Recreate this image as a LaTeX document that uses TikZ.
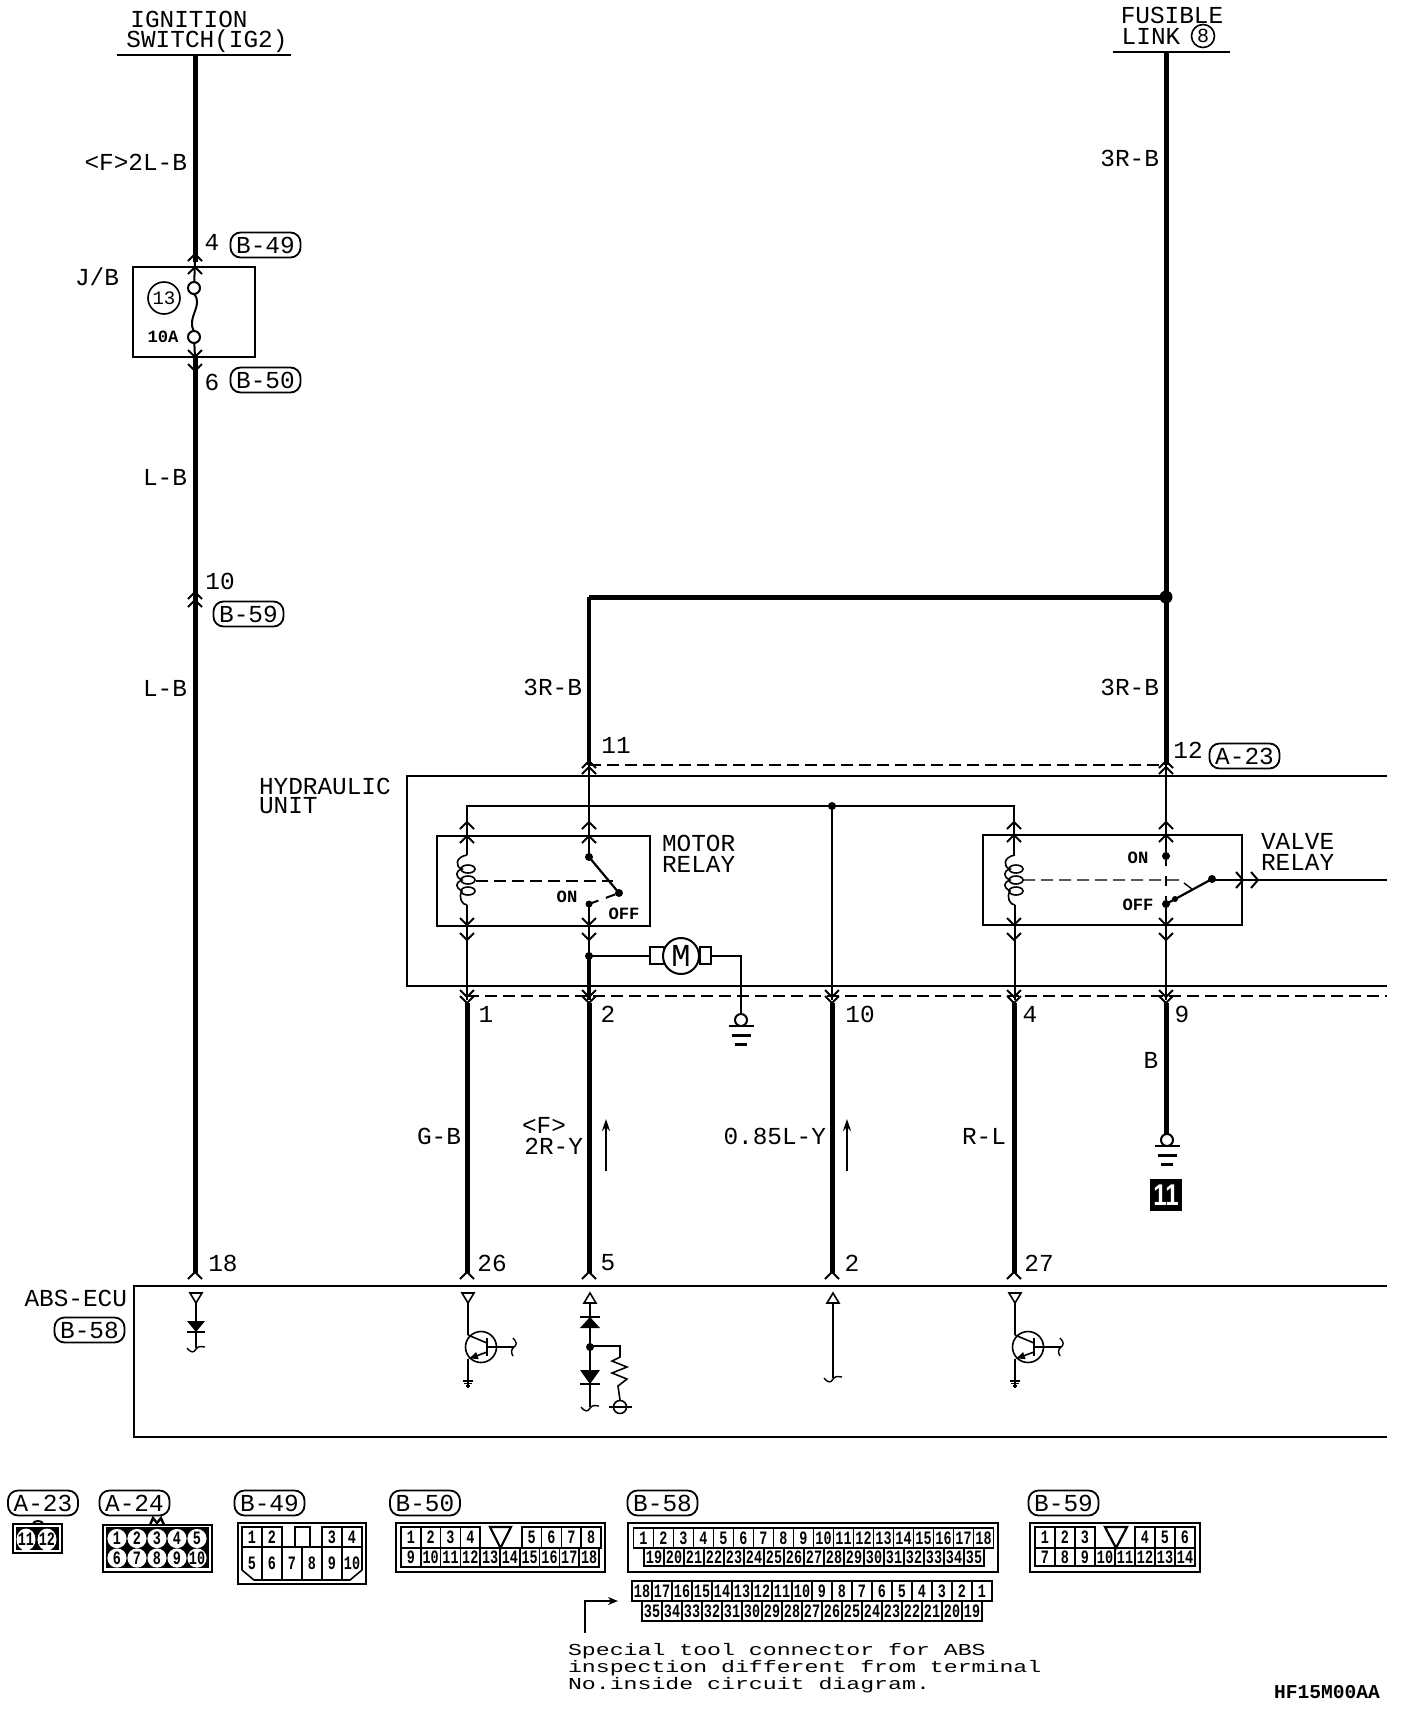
\documentclass[tikz,border=0pt]{standalone}
\usepackage{fontspec}
\setmainfont{Liberation Mono}
\newfontfamily\sansb{Liberation Sans}
\usetikzlibrary{arrows.meta,decorations.pathmorphing}
\newcommand{\bigf}{\fontsize{12.2}{12}\selectfont}
\newcommand{\midf}{\fontsize{11.6}{11}\selectfont}
\newcommand{\smallf}{\fontsize{8.6}{9}\selectfont\bfseries}
\newcommand{\cellf}{\fontsize{7}{7}\selectfont\bfseries}
% \cellrow{prefix}{x0}{y0}{w}{h}{list}
\newcommand{\cellrow}[6]{%
  \foreach \n [count=\i] in {#6}{%
    \draw[cellline] ({#2+(\i-1)*#4},#3) rectangle ({#2+\i*#4},{#3+#5});
    \node[celltxt,name=#1\n] at ({#2+(\i-.5)*#4},{#3+#5/2}) {\scalebox{0.96}[1.35]{\n}};
  }}
\tikzset{
  txt/.style={inner sep=0pt,outer sep=0pt,font=\bigf,align=left},
  smalltxt/.style={inner sep=0pt,outer sep=0pt,font=\smallf},
  celltxt/.style={inner sep=0pt,outer sep=0pt,font=\cellf},
  notetxt/.style={inner sep=0pt,outer sep=0pt,anchor=west,font=\midf},
  cellline/.style={draw=black,line width=.8pt},
  rlabel/.style={draw=black,line width=.9pt,rounded corners=5pt,minimum width=35pt,minimum height=12.5pt,inner sep=0pt,font=\bigf},
  thickw/.style={line width=2.5pt,draw=black},
  medw/.style={line width=1.8pt,draw=black},
  thinw/.style={line width=1pt,draw=black},
  boxl/.style={line width=1pt,draw=black},
  dashl/.style={line width=.9pt,draw=black,dash pattern=on 6pt off 3pt},
  pics/cu/.style={code={\draw[line width=1pt] (-7,7)--(0,0)--(7,7);}},
  pics/cd/.style={code={\draw[line width=1pt] (-7,-7)--(0,0)--(7,-7);}},
  pics/cr/.style={code={\draw[line width=1pt] (-7,-8)--(0,0)--(-7,8);}},
  pics/curl/.style={code={\draw[line width=.7pt] (-9,-1) .. controls (-5,4) and (-2,4) .. (0,0) .. controls (2,-3) and (6,-3) .. (9,-2);}},
  pics/curlv/.style={code={\draw[line width=.7pt] (-1,-9) .. controls (3,-5) and (3,-2) .. (0,0) .. controls (-3,2) and (-3,6) .. (-1,9);}},
  pics/coil/.style={code={
    \draw[line width=.8pt] (0,0) .. controls (-12,2) and (-12,12) .. (-5,14) .. controls (-12,16) and (-12,22) .. (-5,25) .. controls (-12,28) and (-12,32) .. (-5,36) .. controls (-9,42) and (-5,50) .. (0,50);
    \draw[line width=.8pt] (1,14) ellipse (7 and 4);
    \draw[line width=.8pt] (1,25) ellipse (7 and 4);
    \draw[line width=.8pt] (1,36) ellipse (7 and 4);}},
  pics/transis/.style={code={
    \draw[line width=.8pt] (0,0) circle (15.5);
    \draw[line width=1.1pt] (6,-9)--(6,9);
    \draw[line width=.8pt] (-13,-12)--(6,-4);
    \draw[line width=.8pt,-{Latex[length=5pt,width=4pt]}] (6,5)--(-13,12);
    \draw[line width=.8pt] (6,0)--(33,0);
    \pic at (33,0) {curlv};
    \draw[line width=.8pt] (-13,-44)--(-13,-12);
    \draw[line width=.8pt] (-13,12)--(-13,33);
    \draw[line width=.7pt] (-18,34)--(-8,34) (-17,36.5)--(-9,36.5) (-15,39)--(-11,39);
    \draw[line width=.7pt] (-13,34)--(-13,41);}},
  pics/tridown/.style={code={\draw[line width=.8pt,fill=white] (-6,0)--(6,0)--(0,10)--cycle;}},
  pics/triup/.style={code={\draw[line width=.8pt,fill=white] (-6,10)--(6,10)--(0,0)--cycle;}},
  pics/gnd/.style={code={
    \draw[line width=1pt] (0,-6) circle (6);
    \draw[line width=1.1pt] (-12.5,0)--(12.5,0);
    \draw[line width=1.1pt] (-9.5,9.5)--(9.5,9.5);
    \draw[line width=1.3pt] (-6,18.5)--(6,18.5);}},
}
\begin{document}
\begin{tikzpicture}[x=0.5pt,y=-0.5pt]
\path[fill=white,use as bounding box] (0,0) rectangle (1408,1710);

% ---------- named points
\coordinate (igtop) at (195,55);
\coordinate (igj) at (195,262);
\coordinate (fa) at (194,288);
\coordinate (fb) at (194,337);
\coordinate (igl) at (195,357);
\coordinate (igecu) at (195,1273);
\coordinate (fltop) at (1166,52);
\coordinate (junc) at (1166,597);
\coordinate (mtop) at (589,597);
\coordinate (m11) at (589,765);
\coordinate (v12) at (1166,765);
\coordinate (busl) at (467,806);
\coordinate (busr) at (1014,806);
\coordinate (busm) at (832,806);
\coordinate (rightend) at (1387,880);

% ---------- titles
\draw[boxl,line width=1.2pt] (117,55)--(291,55);
\node[txt,name=tIgn] at (189,19) {IGNITION};
\node[txt,name=tSw] at (207,41) {SWITCH(IG2)};
\draw[boxl,line width=1.2pt] (1113,52)--(1230,52);
\node[txt,name=tFus] at (1172,15) {FUSIBLE};
\node[txt,name=tLink] at (1151,36) {LINK};
\node[draw,circle,line width=.8pt,inner sep=0pt,minimum size=11.5pt,font=\fontsize{10}{10}\selectfont,name=tEight] at (1203,36) {8};

% ---------- main wires
\draw[thickw] (igtop)--(igj);
\draw[thinw] (igj)--(fa);
\draw[thinw] (fb)--(igl);
\draw[thickw] (igl)--(igecu);
\draw[thickw] (fltop)--(junc);
\draw[thickw] (junc)--(v12);
\draw[thickw] (mtop)--(junc);
\draw[medw] (mtop)--(m11);
\fill (junc) circle (6.5);

% J/B
\draw[boxl] (133,267) rectangle (255,357);
\draw[thinw,fill=white] (fa) circle (6);
\draw[thinw,fill=white] (fb) circle (6);
\draw[thinw] (194,294) .. controls (204,305) and (186,318) .. (194,331);
\node[txt,name=jb] at (97,277) {J/B};
\node[draw,circle,line width=.8pt,inner sep=0pt,minimum size=16pt,font=\fontsize{9.5}{10}\selectfont,name=cthirteen] at (164,298) {13};
\node[smalltxt,name=tenA] at (163,337) {10A};
\pic at (195,254) {cu}; \pic at (195,267) {cu};
\pic at (195,357) {cd}; \pic at (195,371) {cd};
\node[txt,name=p4] at (212,242) {4};
\node[rlabel,name=lB49] at (265.5,245) {B-49};
\node[txt,name=p6] at (212,382) {6};
\node[rlabel,name=lB50] at (265.5,380) {B-50};
\node[txt,anchor=east,name=w1] at (187,162) {<F>2L-B};
\node[txt,anchor=east,name=w2] at (187,477) {L-B};
\node[txt,anchor=east,name=w3] at (187,688) {L-B};
\pic at (195,592) {cu}; \pic at (195,600) {cu};
\node[txt,name=p10] at (220,581) {10};
\node[rlabel,name=lB59] at (248.5,614) {B-59};
\node[txt,anchor=east,name=w4] at (1159,158) {3R-B};
\node[txt,anchor=east,name=w5] at (582,687) {3R-B};
\node[txt,anchor=east,name=w6] at (1159,687) {3R-B};

% ---------- hydraulic unit
\draw[boxl] (1387,776)--(407,776)--(407,986)--(1387,986);
\draw[dashl] (589,765)--(1166,765);
\draw[dashl] (467,996)--(1387,996);
\node[txt,anchor=west,name=tHyd] at (259,786) {HYDRAULIC};
\node[txt,anchor=west,name=tUnit] at (259,806) {UNIT};

\draw[thinw] (589,765)--(589,857);
\draw[thinw] (1166,765)--(1166,856);
\draw[thinw] (467,840)--(busl)--(busr)--(1014,840);
\fill (busm) circle (4);
\draw[thinw] (busm)--(832,1000);

% motor relay
\draw[boxl] (437,836) rectangle (650,926);
\draw[thinw] (467,806)--(467,855);
\pic at (467,855) {coil};
\draw[thinw] (467,905)--(467,1000);
\draw[dashl,line width=.7pt] (476,881)--(613,881);
\fill (589,857) circle (4);
\draw[line width=1.1pt] (589,857)--(619,893);
\fill (619,893) circle (4);
\fill (589,904) circle (3.5);
\draw[line width=1pt,dash pattern=on 5pt off 4pt] (589,904)--(619,893);
\draw[thinw] (589,904)--(589,956);
\node[smalltxt,name=mOn] at (567,897) {ON};
\node[smalltxt,name=mOff] at (624,914) {OFF};
\node[txt,anchor=west,name=tMot] at (662,843) {MOTOR};
\node[txt,anchor=west,name=tRel] at (662,864) {RELAY};
\foreach \xx in {467,589}{
  \pic at (\xx,822) {cu}; \pic at (\xx,836) {cu};
  \pic at (\xx,925) {cd}; \pic at (\xx,940) {cd};
  \pic at (\xx,997) {cd}; \pic at (\xx,1003) {cd};
}
\pic at (589,761) {cu}; \pic at (589,767) {cu};

% motor
\fill (589,956) circle (4);
\draw[medw] (589,956)--(589,1000);
\draw[thinw] (589,956)--(650,956);
\draw[thinw] (650,947) rectangle (664,964);
\draw[thinw] (700,947) rectangle (711,964);
\node[draw,circle,line width=1pt,fill=white,inner sep=0pt,minimum size=18pt,font=\fontsize{16}{16}\selectfont,name=motor] at (681,956) {M};
\coordinate (mgnd) at (741,1026);
\draw[thinw] (711,956)--(741,956)--(741,1014);
\pic at (mgnd) {gnd};

% valve relay
\draw[boxl] (983,835) rectangle (1242,925);
\draw[thinw] (1014,806)--(1014,855);
\pic at (1015,855) {coil};
\draw[thinw] (1015,905)--(1015,1000);
\draw[dashl,line width=.7pt] (1023,880)--(1180,880)--(1192,889);
\fill (1166,856) circle (4);
\draw[line width=.9pt,dash pattern=on 5pt off 5pt] (1166,856)--(1166,904);
\fill (1166,904) circle (4);
\fill (1175,899) circle (3);
\draw[line width=1.1pt] (1166,904)--(1212,879);
\fill (1212,879) circle (4);
\draw[thinw] (1212,880)--(rightend);
\draw[thinw] (1166,904)--(1166,1000);
\pic at (1243,880) {cr}; \pic at (1258,880) {cr};
\node[smalltxt,name=vOn] at (1138,858) {ON};
\node[smalltxt,name=vOff] at (1138,905) {OFF};
\node[txt,anchor=west,name=tVal] at (1261,841) {VALVE};
\node[txt,anchor=west,name=tRel2] at (1261,862) {RELAY};
\foreach \xx in {1014,1166}{
  \pic at (\xx,822) {cu}; \pic at (\xx,835) {cu};
  \pic at (\xx,925) {cd}; \pic at (\xx,940) {cd};
}
\pic at (832,997) {cd}; \pic at (832,1003) {cd};
\pic at (1014,997) {cd}; \pic at (1014,1003) {cd};
\pic at (1166,997) {cd}; \pic at (1166,1003) {cd};
\pic at (1166,761) {cu}; \pic at (1166,767) {cu};

\node[txt,name=p11] at (616,745) {11};
\node[txt,name=p12] at (1188,750) {12};
\node[rlabel,name=lA23] at (1244.5,756) {A-23};
\node[txt,name=q1] at (486,1014) {1};
\node[txt,name=q2] at (608,1014) {2};
\node[txt,name=q10] at (860,1014) {10};
\node[txt,name=q4] at (1030,1014) {4};
\node[txt,name=q9] at (1182,1014) {9};

% ---------- lower wires
\coordinate (ecu1) at (467,1273);
\coordinate (ecu2) at (589,1273);
\coordinate (ecu3) at (832,1273);
\coordinate (ecu4) at (1014,1273);
\coordinate (gndb) at (1167,1146);
\draw[thickw] (467,1003)--(ecu1);
\draw[thickw] (589,1003)--(ecu2);
\draw[thickw] (832,1003)--(ecu3);
\draw[thickw] (1014,1003)--(ecu4);
\draw[thickw] (1166,1003)--(1166,1135);
\pic at (gndb) {gnd};
\node[fill=black,text=white,minimum width=16pt,minimum height=16pt,inner sep=0pt,font=\sansb\fontsize{12}{12}\selectfont\bfseries,name=box11] at (1166,1195) {\scalebox{1}[1.25]{11}};
\node[txt,anchor=east,name=wGB] at (461,1136) {G-B};
\node[txt,name=wF] at (544,1125) {<F>};
\node[txt,anchor=east,name=wRY] at (583,1146) {2R-Y};
\node[txt,anchor=east,name=wLY] at (826,1136) {0.85L-Y};
\node[txt,anchor=east,name=wRL] at (1006,1136) {R-L};
\node[txt,name=wB] at (1151,1060) {B};
\coordinate (aa) at (606,1171); \coordinate (ab) at (606,1119);
\coordinate (ac) at (847,1171); \coordinate (ad) at (847,1119);
\draw[line width=.8pt,-{Stealth[length=6pt,width=4pt]}] (aa)--(ab);
\draw[line width=.8pt,-{Stealth[length=6pt,width=4pt]}] (ac)--(ad);
\foreach \xx in {195,467,589,832,1014}{\pic at (\xx,1272) {cu};}
\node[txt,name=e18] at (223,1263) {18};
\node[txt,name=e26] at (492,1263) {26};
\node[txt,name=e5] at (608,1263) {5};
\node[txt,name=e2] at (852,1263) {2};
\node[txt,name=e27] at (1039,1263) {27};

% ---------- ECU
\draw[boxl] (1387,1286)--(134,1286)--(134,1437)--(1387,1437);
\node[txt,anchor=east,name=tEcu] at (127,1298) {ABS-ECU};
\node[rlabel,name=lB58a] at (89.5,1330) {B-58};
% pin 18
\pic at (196,1293) {tridown};
\draw[line width=.8pt] (196,1303)--(196,1348);
\fill (187,1321)--(205,1321)--(196,1332)--cycle;
\draw[line width=.8pt] (187,1332)--(205,1332);
\pic at (196,1349) {curl};
% pin 26 and 27
\pic at (468,1293) {tridown};
\pic at (481,1347) {transis};
\pic at (1015,1293) {tridown};
\pic at (1028,1347) {transis};
% pin 5
\pic at (590,1293) {triup};
\draw[line width=.8pt] (590,1303)--(590,1407);
\fill (590,1317)--(600,1328)--(580,1328)--cycle;
\draw[line width=.8pt] (580,1317)--(600,1317);
\fill (580,1370)--(600,1370)--(590,1384)--cycle;
\draw[line width=.8pt] (580,1384)--(600,1384);
\fill (590,1347) circle (4);
\pic at (590,1408) {curl};
\draw[line width=.8pt] (590,1346)--(620,1346)--(620,1357)--(612,1361)--(627,1367)--(612,1373)--(627,1379)--(618,1386)--(620,1400);
\draw[line width=.8pt] (620,1407) circle (6.5);
\draw[line width=.8pt] (609,1407)--(632,1407);
% pin 2
\pic at (833,1293) {triup};
\draw[line width=.8pt] (833,1303)--(833,1378);
\pic at (833,1379) {curl};

% ---------- connector legend
\node[rlabel,name=lA23b] at (43,1503) {A-23};
\node[rlabel,name=lA24] at (134.5,1503) {A-24};
\node[rlabel,name=lB49b] at (269.5,1503) {B-49};
\node[rlabel,name=lB50b] at (425,1503) {B-50};
\node[rlabel,name=lB58b] at (662.5,1503) {B-58};
\node[rlabel,name=lB59b] at (1063.5,1503) {B-59};

% A-23
\draw[line width=1pt] (33,1524) .. controls (33,1520) and (43,1520) .. (43,1524);
\draw[line width=1.2pt] (13,1524) rectangle (62,1553);
\fill (16,1527) rectangle (59,1550);
\foreach \n/\xx in {11/26,12/47}{
  \fill[white] (\xx,1539.5) ellipse (9.5 and 11);
  \node[celltxt,name=a23\n] at (\xx,1539.5) {\scalebox{0.96}[1.35]{\n}};
}
% A-24
\draw[line width=1.2pt] (150,1525)--(153,1518)--(157,1523)--(161,1518)--(164,1525);
\draw[line width=.8pt] (103,1525) rectangle (212,1572);
\fill (106,1527) rectangle (209,1568);
\foreach \n/\xx/\yy in {1/117/1538.5,2/137/1538.5,3/157/1538.5,4/177/1538.5,5/197/1538.5,6/117/1558,7/137/1558,8/157/1558,9/177/1558,10/197/1558}{
  \fill[white] (\xx,\yy) circle (9.6);
  \node[celltxt,name=a24n\n] at (\xx,\yy) {\scalebox{0.96}[1.35]{\n}};
}
% B-49
\draw[line width=1pt] (238,1523) rectangle (366,1584);
\cellrow{b49a}{242}{1527}{20}{20}{1,2}
\cellrow{b49b}{322}{1527}{20}{20}{3,4}
\draw[cellline] (295,1547)--(295,1527)--(310,1527)--(310,1547);
\cellrow{b49c}{242}{1547}{20}{33}{5,6,7,8,9,10}
\fill[white] (241,1570)--(241,1581)--(254,1581)--cycle;
\fill[white] (363,1570)--(363,1581)--(350,1581)--cycle;
\draw[cellline] (242,1570)--(254,1580) (362,1570)--(350,1580);
% B-50
\draw[line width=1.2pt] (396,1523) rectangle (605,1572);
\cellrow{b50a}{401}{1527}{19.8}{21}{1,2,3,4}
\cellrow{b50b}{521.8}{1527}{19.8}{21}{5,6,7,8}
\cellrow{b50c}{401}{1548}{19.8}{19}{9,10,11,12,13,14,15,16,17,18}
\draw[line width=1.1pt] (490,1527)--(500.5,1548)--(511,1527)--cycle;
% B-58
\draw[line width=1.2pt] (628,1523) rectangle (998,1572);
\cellrow{b58a}{633.5}{1528}{20}{20}{1,2,3,4,5,6,7,8,9,10,11,12,13,14,15,16,17,18}
\cellrow{b58b}{644}{1548}{20}{18}{19,20,21,22,23,24,25,26,27,28,29,30,31,32,33,34,35}
\cellrow{b58c}{632}{1581}{20}{20}{18,17,16,15,14,13,12,11,10,9,8,7,6,5,4,3,2,1}
\cellrow{b58d}{642}{1601}{20}{20}{35,34,33,32,31,30,29,28,27,26,25,24,23,22,21,20,19}
% B-59
\draw[line width=1.3pt] (1030,1523) rectangle (1200,1572);
\cellrow{b59a}{1035}{1527}{20}{21}{1,2,3}
\cellrow{b59b}{1135}{1527}{20}{21}{4,5,6}
\cellrow{b59c}{1035}{1548}{20}{18}{7,8,9,10,11,12,13,14}
\draw[line width=1.1pt] (1105,1527)--(1116,1548)--(1127,1527)--cycle;

% special tool note
\coordinate (nt) at (585,1633);
\coordinate (nb) at (585,1601);
\coordinate (nh) at (618,1601);
\draw[line width=.9pt,-{Stealth[length=5pt,width=4pt]}] (nt)--(nb)--(nh);
\node[notetxt,name=nA] at (568,1651) {\scalebox{1}[0.72]{Special tool connector for ABS}};
\node[notetxt,name=nB] at (568,1668) {\scalebox{1}[0.72]{inspection different from terminal}};
\node[notetxt,name=nC] at (568,1685) {\scalebox{1}[0.72]{No.inside circuit diagram.}};
\node[inner sep=0pt,font=\fontsize{9.8}{10}\selectfont\bfseries,name=code] at (1327,1692) {HF15M00AA};
\end{tikzpicture}
\end{document}
